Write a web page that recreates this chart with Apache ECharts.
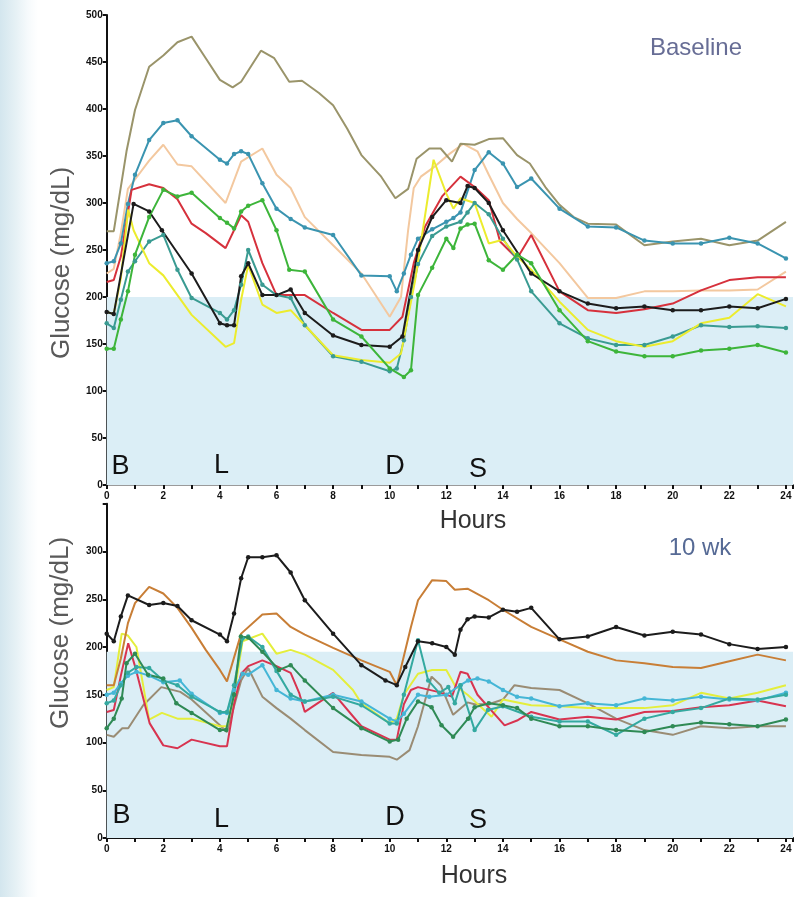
<!DOCTYPE html>
<html><head><meta charset="utf-8">
<script src="https://cdn.jsdelivr.net/npm/echarts@6/dist/echarts.min.js"></script>
<style>
html,body{margin:0;padding:0;width:796px;height:897px;overflow:hidden;
background:#fff linear-gradient(to right,#d3e6ee 0px,#e6f1f5 16px,#f6fafc 28px,#ffffff 38px);}
#c{width:796px;height:897px;}
</style></head>
<body><div id="c"></div>
<script>
// ---------- DATA (hours, mg/dL) ----------
// Baseline panel
const baseOlive = [[0,270],[0.25,270],[0.7,355],[1,399],[1.5,445],[2,457],[2.5,471],[3,477],[3.5,454],[4,431],[4.45,423],[4.75,429],[5.45,462],[5.92,454],[6.45,429],[6.9,430],[7.5,417],[8,404],[8.5,379],[9,351],[9.7,328],[10.2,305],[10.65,315],[10.95,347],[11.4,358],[11.8,358],[12.2,344],[12.5,363],[13,362],[13.5,368],[14,369],[14.5,351],[14.95,342],[15.5,317],[16,298],[16.5,285],[17,278],[18,277],[19,255],[20,259],[21,262],[22,255],[23,260],[24,280]];
const baseTeal = [[0,236],[0.25,238],[0.5,257],[0.75,299],[1,330],[1.5,367],[2,385],[2.5,388],[3,371],[4,346],[4.25,342],[4.5,352],[4.75,355],[5,352],[5.5,321],[6,294],[6.5,283],[7,274],[8,266],[9,223],[10,222],[10.25,206],[10.5,225],[10.75,245],[11,262],[11.5,272],[12,280],[12.25,284],[12.5,290],[13,335],[13.5,354],[14,342],[14.5,317],[15,326],[16,294],[17,275],[18,274],[19,260],[20,257],[21,257],[22,263],[23,257],[24,241]];
const basePeach = [[0,225],[0.25,230],[0.5,268],[0.75,315],[1,325],[1.5,345],[2,362],[2.5,341],[3,339],[4.2,300],[4.75,344],[5.5,358],[6,330],[6.5,316],[7,285],[8,255],[9,225],[10,179],[10.4,200],[10.65,271],[10.85,316],[11.1,328],[11.6,339],[12.1,352],[12.6,363],[13.1,355],[13.5,330],[14,300],[14.5,283],[15,268],[16,236],[17,199],[18,199],[19,206],[20,206],[21,207],[22,207],[23,208],[24,227]];
const baseRed = [[0,216],[0.25,218],[0.5,243],[0.88,314],[1.5,320],[2,316],[2.5,304],[3,278],[3.5,268],[4.2,252],[4.75,287],[5,280],[5.5,236],[6,202],[7,202],[8,183],[9,165],[10,165],[10.45,179],[10.85,236],[11.25,275],[11.85,307],[12.5,328],[13,317],[13.5,303],[13.9,259],[14.5,241],[15,266],[16,206],[17,186],[18,183],[19,187],[20,193],[21,207],[22,218],[23,221],[24,221]];
const baseGreen = [[0,145],[0.25,145],[0.5,176],[0.75,206],[1,245],[1.5,285],[2,314],[2.5,307],[3,311],[4,284],[4.25,279],[4.5,273],[4.75,291],[5,297],[5.5,303],[6,271],[6.45,229],[7,227],[8,176],[9,158],[10,124],[10.5,115],[10.75,122],[11,202],[11.5,231],[12,262],[12.25,252],[12.5,273],[12.75,277],[13,278],[13.5,239],[14,229],[14.5,245],[15,236],[16,186],[17,153],[18,142],[19,137],[20,137],[21,143],[22,145],[23,149],[24,141]];
const baseBlack = [[0,184],[0.25,182],[0.95,299],[1.5,291],[1.95,271],[3,225],[4,172],[4.25,170],[4.5,170],[4.75,222],[5,236],[5.5,202],[6,202],[6.5,208],[7,183],[8,159],[9,149],[10,147],[10.45,158],[11,250],[11.5,285],[12,303],[12.5,300],[12.75,318],[13,316],[13.5,300],[14,271],[15,225],[16,206],[17,193],[18,188],[19,190],[20,186],[21,186],[22,190],[23,188],[24,198]];
const baseSea = [[0,172],[0.25,167],[0.5,197],[0.75,227],[1,238],[1.5,259],[2,266],[2.5,229],[3,199],[4,183],[4.25,176],[4.5,186],[4.75,213],[5,250],[5.5,213],[6,202],[6.5,199],[7,170],[8,137],[9,131],[10,121],[10.25,124],[10.5,154],[10.75,200],[11,235],[11.5,265],[12,275],[12.5,280],[12.75,290],[13,300],[13.5,288],[14,262],[14.5,240],[15,206],[16,172],[17,156],[18,149],[19,149],[20,158],[21,170],[22,168],[23,169],[24,167]];
const baseYellow = [[0,184],[0.25,182],[0.5,220],[0.76,293],[0.95,271],[1.5,236],[2,223],[3,181],[4.2,147],[4.5,151],[4.75,197],[5,234],[5.5,192],[6,183],[6.5,186],[7,170],[8,138],[9,133],[10,130],[10.4,140],[10.9,218],[11.55,346],[12,310],[12.25,294],[12.5,305],[13,300],[13.5,257],[14,261],[14.5,243],[15,229],[16,195],[17,165],[18,153],[19,147],[20,153],[21,172],[22,178],[23,203],[24,190]];
// 10 wk panel
const wkBlack = [[0,214],[0.25,206],[0.5,232],[0.75,254],[1.5,244],[2,246],[2.5,243],[3,228],[4,213],[4.25,206],[4.5,235],[4.75,272],[5,294],[5.5,294],[6,296],[6.5,278],[7,249],[8,214],[9,181],[9.85,165],[10.25,160],[10.55,179],[11,206],[11.5,204],[12,200],[12.3,192],[12.5,218],[12.75,229],[13,232],[13.5,231],[14,239],[14.5,237],[15,241],[16,208],[17,211],[18,221],[19,212],[20,216],[21,213],[22,203],[23,198],[24,200]];
const wkOrange = [[0,160],[0.25,160],[0.5,188],[0.75,225],[1,246],[1.5,263],[2,256],[2.5,241],[3,220],[3.5,197],[4,176],[4.25,164],[4.75,214],[5.5,234],[6,235],[6.5,221],[7,213],[8,199],[9,186],[10,174],[10.25,160],[10.75,221],[11,249],[11.5,270],[12,269],[12.3,260],[12.75,261],[13.5,249],[14,239],[15,221],[16,208],[17,195],[18,186],[19,183],[20,179],[21,178],[22,185],[23,192],[24,186]];
const wkYellow = [[0,155],[0.25,158],[0.53,214],[0.75,212],[1.05,200],[1.5,124],[1.95,131],[2.5,125],[3,125],[4,117],[4.25,117],[4.5,150],[4.8,206],[5.5,214],[6,193],[6.5,197],[7,192],[8,176],[8.7,155],[9,141],[10,120],[10.25,125],[10.5,150],[11,172],[11.5,176],[12,176],[12.3,160],[12.75,150],[13.6,127],[14,145],[15,139],[16,138],[17,136],[18,136],[19,136],[20,139],[21,152],[22,146],[23,152],[24,160]];
const wkRed = [[0,132],[0.25,134],[0.5,170],[0.76,204],[1,180],[1.52,120],[2,97],[2.5,94],[3,103],[4,96],[4.25,96],[4.5,140],[4.75,172],[5,180],[5.5,186],[6,180],[6.5,173],[6.8,152],[7,132],[8,152],[9,117],[10,103],[10.25,103],[10.5,140],[10.75,155],[11,158],[11.7,153],[12.2,148],[12.5,174],[12.75,172],[13.1,150],[14.06,118],[14.5,123],[15,132],[16,124],[17,127],[18,124],[19,132],[20,133],[21,137],[22,139],[23,144],[24,138]];
const wkTeal = [[0,141],[0.25,144],[0.5,160],[0.75,173],[1.05,179],[1.5,178],[2,165],[2.5,160],[3,148],[4,132],[4.25,132],[4.5,160],[4.8,209],[5,211],[5.5,200],[6,175],[6.5,150],[7,143],[8,148],[9,139],[10,120],[10.25,120],[10.5,150],[11,207],[11.36,165],[11.75,152],[12.07,158],[12.3,141],[12.5,160],[13,113],[13.47,134],[14,138],[15,127],[16,122],[17,122],[18,108],[19,125],[20,132],[21,136],[22,146],[23,145],[24,150]];
const wkLightBlue = [[0,150],[0.25,152],[0.5,162],[0.75,170],[1.05,174],[1.5,170],[2,163],[2.58,165],[3,151],[4,131],[4.25,131],[4.5,155],[4.8,172],[5,171],[5.5,181],[6,155],[6.5,146],[7,143],[8,150],[9,143],[10,125],[10.25,122],[10.5,130],[11,150],[11.4,148],[12,150],[12.5,160],[12.77,165],[13.1,167],[13.5,164],[14,155],[14.5,148],[15,146],[16,138],[17,141],[18,139],[19,146],[20,144],[21,148],[22,145],[23,144],[24,152]];
const wkDkGreen = [[0,115],[0.25,125],[0.53,146],[0.7,183],[1,193],[1.46,171],[2,167],[2.46,141],[3,131],[4,113],[4.22,113],[4.5,150],[4.74,211],[5,210],[5.5,195],[6.09,176],[6.5,181],[7,165],[8,136],[9,115],[10,101],[10.3,103],[10.6,125],[11,143],[11.48,137],[11.83,118],[12.24,106],[12.77,125],[13,137],[13.5,141],[14,139],[14.5,136],[15,125],[16,117],[17,117],[18,113],[19,111],[20,117],[21,121],[22,119],[23,117],[24,124]];
const wkGray = [[0,108],[0.25,106],[0.55,115],[0.76,115],[1.29,139],[1.93,158],[2.6,153],[3,145],[4,118],[4.25,111],[4.75,165],[5,178],[5.5,148],[6,136],[6.5,125],[7,113],[8,90],[9,87],[10,85],[10.25,82],[10.7,92],[11,117],[11.48,169],[11.8,160],[12.24,129],[12.75,142],[13,140],[13.5,140],[14,145],[14.41,160],[15,157],[16,155],[17,141],[18,125],[19,113],[20,108],[21,117],[22,115],[23,117],[24,117]];

const xTickLabels = [0,2,4,6,8,10,12,14,16,18,20,22,24];
const baseYTicks = [0,50,100,150,200,250,300,350,400,450,500];
const wkYTicks = [0,50,100,150,200,250,300];
const baseTarget = 200;
const wkTarget = 195;
const mealLabels = ['B','L','D','S'];
const panelTitles = ['Baseline','10 wk'];
// ---------------------------------------

const FONT = "'Liberation Sans', Arial, Helvetica, sans-serif";
function mk(data, color, marker, gi, width) {
  return {type:'line', data, xAxisIndex:gi, yAxisIndex:gi, showSymbol:marker, symbol:'circle',
    symbolSize: marker ? 4.5 : 0, lineStyle:{color, width: width||2}, itemStyle:{color},
    z:3, animation:false, silent:true};
}
function shade(gi, top) {
  return {type:'line', data:[], xAxisIndex:gi, yAxisIndex:gi, z:1, silent:true, animation:false,
    markArea:{silent:true, itemStyle:{color:'#dbeef6'}, data:[[{yAxis:0},{yAxis:top}]]}};
}
function xAx(gi) {
  return {type:'value', gridIndex:gi, min:0, max:24.25, interval:1,
    axisLine:{show:true, onZero:false, lineStyle:{color:'#111', width:2}},
    axisTick:{show:true, length:4, lineStyle:{color:'#111', width:2}},
    axisLabel:{margin:6, fontSize:10, fontWeight:'bold', color:'#111', fontFamily:FONT,
      formatter: v => xTickLabels.includes(v) ? String(v) : ''},
    splitLine:{show:false}};
}
function yAx(gi, max, ticks) {
  return {type:'value', gridIndex:gi, min:0, max, interval:50,
    axisLine:{show:true, lineStyle:{color:'#111', width:2}},
    axisTick:{show:true, length:4, lineStyle:{color:'#111', width:2}},
    axisLabel:{margin:4, fontSize:10, fontWeight:'bold', color:'#111', fontFamily:FONT,
      formatter: v => ticks.includes(v) ? String(v) : ''},
    splitLine:{show:false}};
}
const chart = echarts.init(document.getElementById('c'), null, {renderer:'canvas'});
const txt = (s, x, y, size, color, extra) => Object.assign({type:'text', x, y, z:100, zlevel:0, silent:true,
  style:{text:s, font:`${size}px ${FONT}`, fill:color, textAlign:'center', textVerticalAlign:'middle'}}, extra||{});
const topLbl = [[120.5,467],[221.5,466],[395,467],[478,470]];
const botLbl = [[121.5,816],[221.5,820],[395,818],[478,821]];
const graphics = [];
mealLabels.forEach((m,i)=>{
  graphics.push(txt(m, topLbl[i][0], topLbl[i][1], 27, '#111'));
  graphics.push(txt(m, botLbl[i][0], botLbl[i][1], 27, '#111'));
});
graphics.push(txt('Hours', 473, 521, 25, '#333'));
graphics.push(txt('Hours', 474, 876, 25, '#333'));
graphics.push(txt(panelTitles[0], 696, 48, 24, '#676d95'));
graphics.push(txt(panelTitles[1], 700, 548, 24, '#566a95'));
graphics.push(txt('Glucose (mg/dL)', 62, 263, 26, '#5a5a5a', {rotation:Math.PI/2}));
graphics.push(txt('Glucose (mg/dL)', 61, 633, 26, '#5a5a5a', {rotation:Math.PI/2}));

chart.setOption({
  animation:false,
  backgroundColor:'transparent',
  grid:[{left:106.7, top:15, width:689.3, height:470},
        {left:106.7, top:838-350*0.955, width:689.3, height:350*0.955}],
  xAxis:[xAx(0), xAx(1),
    {type:'value', gridIndex:0, position:'top', min:0, max:24.25,
     axisLine:{show:true, lineStyle:{color:'#9a9a9a', width:2}}, axisTick:{show:false},
     axisLabel:{show:false}, splitLine:{show:false}}],
  yAxis:[yAx(0, 500, baseYTicks), yAx(1, 350, wkYTicks)],
  series:[
    shade(0, baseTarget), shade(1, wkTarget),
    mk(basePeach,'#f3c89f',false,0),
    mk(baseOlive,'#9a946a',false,0),
    mk(baseTeal,'#3a94b0',true,0),
    mk(baseRed,'#d6313c',false,0),
    mk(baseSea,'#3a9b92',true,0),
    mk(baseYellow,'#ecec2e',false,0),
    mk(baseBlack,'#1c1c1c',true,0),
    mk(baseGreen,'#3db53a',true,0),
    mk(wkGray,'#9a8c74',false,1),
    mk(wkYellow,'#e4ee3c',false,1),
    mk(wkRed,'#d83450',false,1),
    mk(wkLightBlue,'#45b6d6',true,1),
    mk(wkTeal,'#34a9a0',true,1),
    mk(wkDkGreen,'#2f8a55',true,1),
    mk(wkOrange,'#c87e36',false,1),
    mk(wkBlack,'#1c1c1c',true,1)
  ],
  graphic: {elements: graphics}
});
</script>
</body></html>
